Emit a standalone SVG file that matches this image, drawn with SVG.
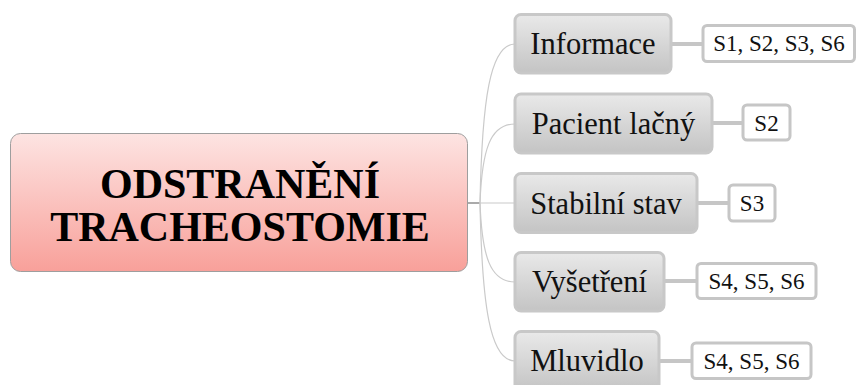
<svg xmlns="http://www.w3.org/2000/svg" width="856" height="385" viewBox="0 0 856 385">
  <defs>
    <linearGradient id="gMain" x1="0" y1="0" x2="0" y2="1">
      <stop offset="0" stop-color="#fde4e2"/>
      <stop offset="1" stop-color="#f8a09a"/>
    </linearGradient>
    <linearGradient id="gChild" x1="0" y1="0" x2="0" y2="1">
      <stop offset="0" stop-color="#e9e9e9"/>
      <stop offset="1" stop-color="#c4c4c4"/>
    </linearGradient>
    <style>
      text { font-family: "Liberation Serif", "Times New Roman", serif; }
      .main { fill: url(#gMain); stroke: #9e9e9e; stroke-width: 1; }
      .mainText { font-weight: bold; font-size: 42px; fill: #000; text-anchor: middle; }
      .child { fill: url(#gChild); stroke: #c8c8c8; stroke-width: 3; }
      .childText { font-size: 30.5px; fill: #111; text-anchor: middle; }
      .label { fill: #ffffff; stroke: #c6c6c6; stroke-width: 3; }
      .labelText { font-size: 23px; fill: #111; text-anchor: middle; }
      .curve { fill: none; stroke: #cacaca; stroke-width: 1.2; }
      .stub { fill: none; stroke: #8e8e8e; stroke-width: 1.5; }
      .link { fill: none; stroke: #c6c6c6; stroke-width: 4; }
    </style>
  </defs>

  <g id="connectors">
    <path class="stub" d="M468,203 L480,203"/>
    <path class="curve" d="M480,203 C482,100 490,44 515,44"/>
    <path class="curve" d="M480,203 C482,150 490,124 515,124"/>
    <path class="curve" d="M480,203 L515,203"/>
    <path class="curve" d="M480,203 C482,256 490,282 515,282"/>
    <path class="curve" d="M480,203 C482,306 490,361 515,361"/>
    <path class="link" d="M671,44 L703,44"/>
    <path class="link" d="M712,123 L743,123"/>
    <path class="link" d="M697,203 L729,203"/>
    <path class="link" d="M664,281 L697,281"/>
    <path class="link" d="M659,361 L692,361"/>
  </g>

  <g id="main">
    <rect class="main" x="10.5" y="133.5" width="457" height="138" rx="10" ry="10"/>
    <text class="mainText" x="240" y="198">ODSTRANĚNÍ</text>
    <text class="mainText" x="240" y="241">TRACHEOSTOMIE</text>
  </g>

  <g id="informace">
    <rect class="child" x="515" y="14.5" width="156" height="58.5" rx="6" ry="6"/>
    <text class="childText" x="593" y="54">Informace</text>
  </g>
  <g id="pacient">
    <rect class="child" x="515" y="94" width="197" height="59" rx="6" ry="6"/>
    <text class="childText" x="613.5" y="134">Pacient lačný</text>
  </g>
  <g id="stabilni">
    <rect class="child" x="515" y="173.5" width="182" height="59" rx="6" ry="6"/>
    <text class="childText" x="606" y="213.5">Stabilní stav</text>
  </g>
  <g id="vysetreni">
    <rect class="child" x="515" y="252.5" width="149" height="58.5" rx="6" ry="6"/>
    <text class="childText" x="589.5" y="292">Vyšetření</text>
  </g>
  <g id="mluvidlo">
    <rect class="child" x="515" y="331.5" width="144" height="59" rx="6" ry="6"/>
    <text class="childText" x="587" y="371">Mluvidlo</text>
  </g>

  <g id="label-informace">
    <rect class="label" x="703" y="25.5" width="151.5" height="36" rx="4" ry="4"/>
    <text class="labelText" x="779" y="51">S1, S2, S3, S6</text>
  </g>
  <g id="label-pacient">
    <rect class="label" x="743" y="105" width="47" height="35" rx="4" ry="4"/>
    <text class="labelText" x="766.5" y="130.5">S2</text>
  </g>
  <g id="label-stabilni">
    <rect class="label" x="729" y="185" width="46" height="36" rx="4" ry="4"/>
    <text class="labelText" x="752" y="211">S3</text>
  </g>
  <g id="label-vysetreni">
    <rect class="label" x="697" y="263.5" width="119" height="35" rx="4" ry="4"/>
    <text class="labelText" x="756.5" y="289">S4, S5, S6</text>
  </g>
  <g id="label-mluvidlo">
    <rect class="label" x="692" y="343" width="119" height="35.5" rx="4" ry="4"/>
    <text class="labelText" x="751.5" y="369">S4, S5, S6</text>
  </g>
</svg>
